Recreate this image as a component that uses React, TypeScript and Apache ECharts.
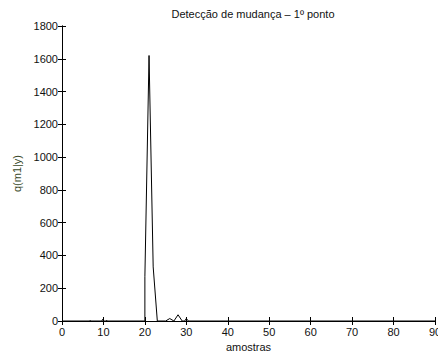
import React, { useEffect, useRef } from "react";
import * as echarts from "echarts";

const TITLE = "Detecção de mudança – 1º ponto";
const X_LABEL = "amostras";
const Y_LABEL = "q(m1|y)";

// samples (x) and posterior values (y)
const sampleX = [0, 6.7, 6.8, 6.9, 9.6, 9.8, 10, 10.6, 10.8, 11, 20, 20, 21, 22, 23, 25, 26, 27, 28, 29, 29.6, 30, 30.5, 90];
const sampleY = [0, 0, 4, 0, 0, 10, 0, 0, 5, 0, 0, 270, 1620, 330, 0, 0, 15, 0, 38, 0, 0, 15, 0, 0];

const X_MIN = 0;
const X_MAX = 90;
const X_STEP = 10;
const Y_MIN = 0;
const Y_MAX = 1800;
const Y_STEP = 200;

const FONT = "'Liberation Sans', Arial, Helvetica, sans-serif";

export default function App() {
  const ref = useRef<HTMLDivElement>(null);

  useEffect(() => {
    if (!ref.current) return;
    const chart = echarts.init(ref.current, undefined, { renderer: "svg" });
    const data = sampleX.map((x, i) => [x, sampleY[i]]);
    const axisLine = { show: true, lineStyle: { color: "#000", width: 1 } };
    const tick = { show: true, inside: true, length: 4, lineStyle: { color: "#000", width: 1 } };
    const label = { color: "#111", fontSize: 11, fontFamily: FONT, formatter: (v: number) => String(v) };
    chart.setOption({
      animation: false,
      backgroundColor: "#fff",
      title: {
        text: TITLE,
        left: 248,
        top: 3,
        textAlign: "center",
        textStyle: { fontSize: 11, fontWeight: "normal", color: "#111", fontFamily: FONT },
      },
      grid: { left: 62, right: 3, top: 26, bottom: 37, containLabel: false, outerBoundsMode: "none" },
      xAxis: [
        {
          type: "value",
          min: X_MIN,
          max: X_MAX,
          interval: X_STEP,
          position: "bottom",
          axisLine,
          axisTick: tick,
          axisLabel: { ...label, margin: 5 },
          splitLine: { show: false },
          name: X_LABEL,
          nameLocation: "middle",
          nameGap: 19,
          nameTextStyle: { fontSize: 11, color: "#111", fontFamily: FONT },
        },
        {
          type: "value",
          min: X_MIN,
          max: X_MAX,
          interval: X_STEP,
          position: "top",
          axisLine,
          axisTick: tick,
          axisLabel: { show: false },
          splitLine: { show: false },
        },
      ],
      yAxis: [
        {
          type: "value",
          min: Y_MIN,
          max: Y_MAX,
          interval: Y_STEP,
          position: "left",
          axisLine,
          axisTick: tick,
          axisLabel: { ...label, margin: 4 },
          splitLine: { show: false },
          name: Y_LABEL,
          nameLocation: "middle",
          nameGap: 33,
          nameTextStyle: { fontSize: 11, color: "#3a4a2a", fontFamily: FONT },
        },
        {
          type: "value",
          min: Y_MIN,
          max: Y_MAX,
          interval: Y_STEP,
          position: "right",
          axisLine,
          axisTick: tick,
          axisLabel: { show: false },
          splitLine: { show: false },
        },
      ],
      series: [
        {
          type: "line",
          data,
          xAxisIndex: 0,
          yAxisIndex: 0,
          showSymbol: false,
          symbol: "none",
          lineStyle: { color: "#000", width: 1 },
        },
      ],
    });
    return () => chart.dispose();
  }, []);

  return (
    <div
      ref={ref}
      style={{ position: "fixed", left: 0, top: 0, width: 438, height: 358, background: "#fff" }}
    />
  );
}
